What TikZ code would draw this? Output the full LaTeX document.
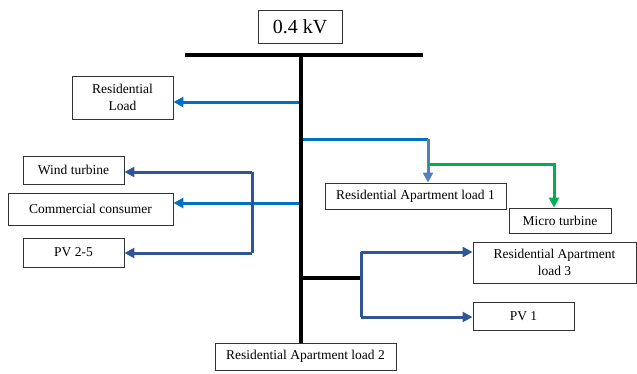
\documentclass[tikz,border=0pt]{standalone}
\usepackage{fontspec}
\setmainfont{Liberation Serif}
\usetikzlibrary{arrows.meta, positioning}
\definecolor{feedblue}{HTML}{0070C0}
\definecolor{darkfeed}{HTML}{2F5597}
\definecolor{lightfeed}{HTML}{4F81BD}
\definecolor{feedgreen}{HTML}{00B050}

\begin{document}
\begin{tikzpicture}[x=1pt, y=-1pt,
box/.style={rectangle, draw=black!80, fill=white, line width=0.9pt, inner sep=1pt, align=center, font=\fontsize{13.5}{17}\selectfont},
busline/.style={line width=3.2pt, black},
feed/.style={line width=3pt, feedblue, -{Triangle[length=10pt,width=10pt]}},
darkline/.style={line width=3pt, darkfeed},
darkfeedarr/.style={darkline, -{Triangle[length=10pt,width=10pt]}},
]
\useasboundingbox (0,0) rectangle (637,373);

%Nodes
\node[box, minimum width=84pt, minimum height=33pt, font=\fontsize{20}{24}\selectfont] at (300,26.5) (KV) {0.4 kV};
\node[box, minimum width=101pt, minimum height=43pt] at (122.5,97.5) (RL) {Residential\\Load};
\node[box, minimum width=101pt, minimum height=28pt] at (73.5,170) (WT) {Wind turbine};
\node[box, minimum width=165pt, minimum height=32pt] at (90.5,209) (CC) {Commercial consumer};
\node[box, minimum width=101pt, minimum height=29pt] at (73.5,252.5) (PV25) {PV 2-5};
\node[box, minimum width=181pt, minimum height=26pt] at (415.5,196) (RAL1) {Residential Apartment load 1};
\node[box, minimum width=102pt, minimum height=25pt] at (560,220.5) (MT) {Micro turbine};
\node[box, minimum width=163pt, minimum height=41pt] at (554.5,262.5) (RAL3) {Residential Apartment\\load 3};
\node[box, minimum width=101pt, minimum height=28pt] at (523.5,316) (PV1) {PV 1};
\node[box, minimum width=181pt, minimum height=27pt] at (305.5,356.5) (RAL2) {Residential Apartment load 2};

%Junctions
\coordinate (busL) at (185,55);
\coordinate (busR) at (423,55);
\coordinate (busT) at (301,55);
\coordinate (jRL) at (301,102);
\coordinate (jA1) at (301,139);
\coordinate (kA1) at (428,139);
\coordinate (kMT) at (428,164);
\coordinate (jCC) at (301,203);
\coordinate (jWT) at (252,172);
\coordinate (jPV) at (252,253);
\coordinate (jA3) at (301,278);
\coordinate (kA3) at (361,278);
\coordinate (kR3) at (361,252);
\coordinate (kP1) at (361,317);

%Lines
\draw[feed] (jRL) -- (RL.east |- jRL);
\draw[line width=3pt, feedblue] (jA1) -- (kA1);
\draw[line width=3pt, lightfeed, -{Triangle[length=10pt,width=10pt]}] (kA1) -- (kA1 |- RAL1.north);
\draw[line width=3pt, feedgreen, -{Triangle[length=10pt,width=10pt]}] (kMT) -| ([xshift=-6pt]MT.north);
\draw[feed] (jCC) -- (CC.east |- jCC);
\draw[darkline] (jWT) -- (jPV);
\draw[darkfeedarr] (jWT) -- (WT.east |- jWT);
\draw[darkfeedarr] (jPV) -- (PV25.east |- jPV);
\draw[busline] (jA3) -- (kA3);
\draw[darkline] (kR3) -- (kP1);
\draw[darkfeedarr] (kR3) -- (RAL3.west |- kR3);
\draw[darkfeedarr] (kP1) -- (PV1.west |- kP1);
\draw[busline] (busL) -- (busR);
\draw[busline] (busT) -- (RAL2.north -| busT);

\end{tikzpicture}
\end{document}
